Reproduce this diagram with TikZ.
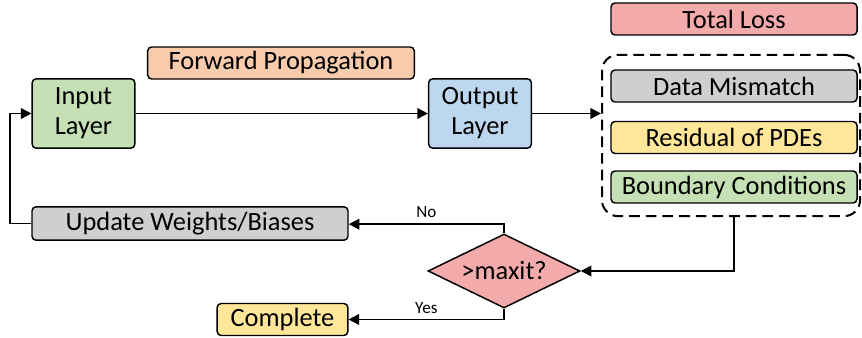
\documentclass[tikz,border=0pt]{standalone}
\usepackage{fontspec}
\setmainfont{Carlito}
\usetikzlibrary{arrows.meta,shapes.geometric}

\definecolor{lossred}{RGB}{242,170,170}
\definecolor{fwdorange}{RGB}{248,203,173}
\definecolor{layergreen}{RGB}{197,224,180}
\definecolor{layerblue}{RGB}{189,215,238}
\definecolor{termgray}{RGB}{208,206,206}
\definecolor{termyellow}{RGB}{255,230,153}

\begin{document}
\begin{tikzpicture}[
    x=0.75pt, y=-0.75pt,
    wire/.style={draw=black, line width=1.25pt},
    flow/.style={wire, -{Triangle[length=8pt,width=8pt]}},
    block/.style={draw=black, line width=1.1pt, rounded corners=3pt,
        inner sep=0pt, font=\fontsize{19.8}{21}\selectfont},
    wide block/.style={block, minimum width=184.5pt, minimum height=24pt},
    layer block/.style={block, minimum width=77pt, minimum height=52pt,
        align=center, font=\fontsize{19.8}{22.5}\selectfont},
    group box/.style={draw=black, line width=1.5pt, dash pattern=on 8pt off 4.5pt,
        rounded corners=12pt, minimum width=193.5pt, minimum height=121pt},
    decision/.style={draw=black, line width=1.1pt, diamond, aspect=2,
        inner sep=0pt, minimum width=114pt, minimum height=55.5pt,
        font=\fontsize{19.8}{21}\selectfont},
    branch label/.style={font=\fontsize{12.8}{14}\selectfont, inner sep=1pt}
]
    \path[use as bounding box] (0,0) rectangle (862,338);

    % top row
    \node[wide block, fill=lossred] (total-loss) at (734,19) {Total Loss};
    \node[block, fill=fwdorange, minimum width=200pt, minimum height=24pt]
        (forward) at (281,63) {Forward Propagation};
    \node[layer block, fill=layergreen] (input) at (83.5,113.5) {Input\\Layer};
    \node[layer block, fill=layerblue] (output) at (480,113.5) {Output\\Layer};

    % loss terms
    \node[group box] (loss-terms) at (731,135.5) {};
    \node[wide block, fill=termgray] (data) at (734,86) {Data Mismatch};
    \node[wide block, fill=termyellow] (residual) at (734,137.5) {Residual of PDEs};
    \node[wide block, fill=layergreen] (boundary) at (734,187) {Boundary Conditions};

    % bottom part
    \node[decision, fill=lossred] (check) at (504,271) {>maxit?};
    \node[block, fill=termgray, minimum width=237pt, minimum height=25pt]
        (update) at (190,223.5) {Update Weights/Biases};
    \node[block, fill=termyellow, minimum width=98pt, minimum height=24pt]
        (complete) at (282.5,319.5) {Complete};

    \coordinate (loop-bottom) at (10,223.5);
    \coordinate (loop-top) at (10,113.5);

    \draw[flow] (input) -- (output);
    \draw[flow] (output.east) -- (output.east -| loss-terms.west);
    \draw[flow] (loss-terms.south -| boundary) |- (check.east);
    \draw[flow] (check.north) |- node[branch label, pos=0.75, above=3pt] {No}
        ([yshift=-0.5pt]update.east);
    \draw[flow] (check.south) |- node[branch label, pos=0.75, above=3pt] {Yes}
        (complete.east);
    \draw[wire] (update.west) -- (loop-bottom);
    \draw[flow] (loop-bottom) -- (loop-top) -- (input.west);

\end{tikzpicture}
\end{document}
